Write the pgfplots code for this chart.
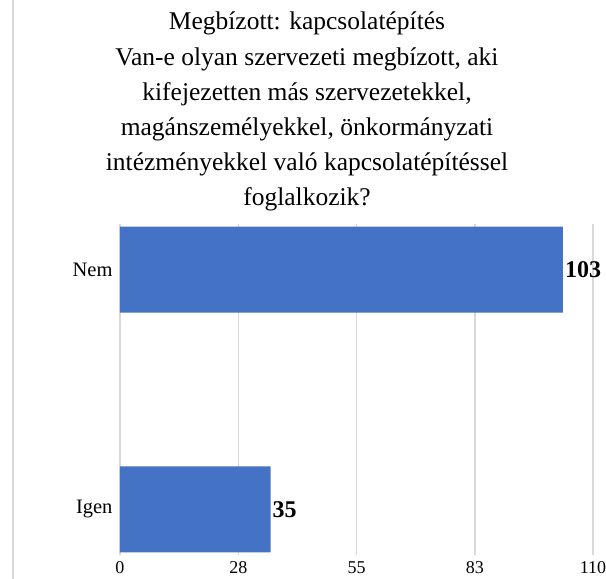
\documentclass[border=0pt]{standalone}
\usepackage{pgfplots}
\pgfplotsset{compat=1.18}
\usepackage{fontspec}
\setmainfont{Liberation Serif}
\definecolor{barblue}{HTML}{4472C4}
\definecolor{gridgray}{HTML}{D9D9D9}
\begin{document}
\begin{tikzpicture}
\useasboundingbox (-120bp,-24bp) rectangle (486bp,555bp);
\draw[gridgray, line width=1.5bp] (-107bp,-24bp) -- (-107bp,574bp) -- (490bp,574bp);
\begin{axis}[
  at={(0,0)}, anchor=south west,
  scale only axis, width=473bp, height=331bp,
  xbar, bar width=86bp,
  xmin=0, xmax=110, ymin=-0.19, ymax=1.19,
  xtick={0,27.5,55,82.5,110}, xticklabels={0,28,55,83,110},
  ytick={0,1}, yticklabels={Igen,Nem},
  xmajorgrids, grid style={draw=gridgray, line width=1.5bp},
  axis line style={draw=none},
  major tick length=0pt,
  xticklabel style={font=\fontsize{18bp}{21bp}\selectfont, yshift=-3bp},
  yticklabel style={font=\fontsize{20.5bp}{24bp}\selectfont, xshift=-4bp},
  /pgf/number format/assume math mode=true,
  nodes near coords,
  nodes near coords style={font=\fontsize{24bp}{28bp}\selectfont\bfseries, anchor=west, inner sep=2bp},
]
\addplot[fill=barblue, draw=none] coordinates {(35,0) (103,1)};
\end{axis}
\node[anchor=north, align=center, inner sep=0pt, font=\fontsize{25.5bp}{35.2bp}\selectfont] at (187bp,543bp)
{Megbízott: kapcsolatépítés\\
Van-e olyan szervezeti megbízott, aki\\
kifejezetten más szervezetekkel,\\
magánszemélyekkel, önkormányzati\\
intézményekkel való kapcsolatépítéssel\\
foglalkozik?};
\end{tikzpicture}
\end{document}
